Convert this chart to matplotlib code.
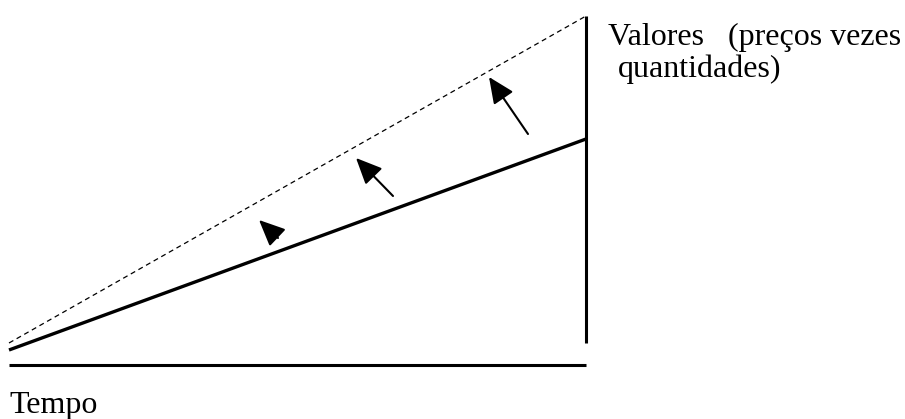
import matplotlib.pyplot as plt

# positions in pixel units of the original picture (x right, y down)
base_x = [9, 586]
base_y = [365, 365]
axis_x = [586, 586]
axis_y = [16, 343]
solid_x = [9, 586]
solid_y = [350, 139]
dotted_x = [9, 586]
dotted_y = [343, 16]

# arrows: (tail, tip)
arrow_tails = [(528, 134), (393, 196), (278, 238)]
arrow_tips = [(489, 77), (356, 158), (259, 220)]

label_y1 = 'Valores   (preços vezes'
label_y2 = 'quantidades)'
label_x = 'Tempo'


def plotting():
    fig = plt.figure(figsize=(9.05, 4.19), dpi=100)
    ax = fig.add_axes([0, 0, 1, 1])
    ax.set_xlim(0, 905)
    ax.set_ylim(419, 0)
    ax.axis('off')

    ax.plot(base_x, base_y, color='black', lw=2.2, solid_capstyle='butt')
    ax.plot(axis_x, axis_y, color='black', lw=2.2, solid_capstyle='butt')
    ax.plot(solid_x, solid_y, color='black', lw=2.4, solid_capstyle='butt')
    ax.plot(dotted_x, dotted_y, color='black', lw=0.9, ls=(0, (4, 3)))

    for tail, tip in zip(arrow_tails, arrow_tips):
        ax.annotate('', xy=tip, xytext=tail,
                    arrowprops=dict(arrowstyle='-|>,head_length=1.0,head_width=0.45',
                                    mutation_scale=16, color='black', lw=1.5,
                                    shrinkA=0, shrinkB=0))

    font = dict(family='Liberation Serif', fontsize=23, ha='left', va='baseline')
    ax.text(608, 45, label_y1, **font)
    ax.text(618, 77, label_y2, **font)
    ax.text(9, 413, label_x, **font)

    plt.savefig('out.png', dpi=100)


if __name__ == '__main__':
    plotting()
